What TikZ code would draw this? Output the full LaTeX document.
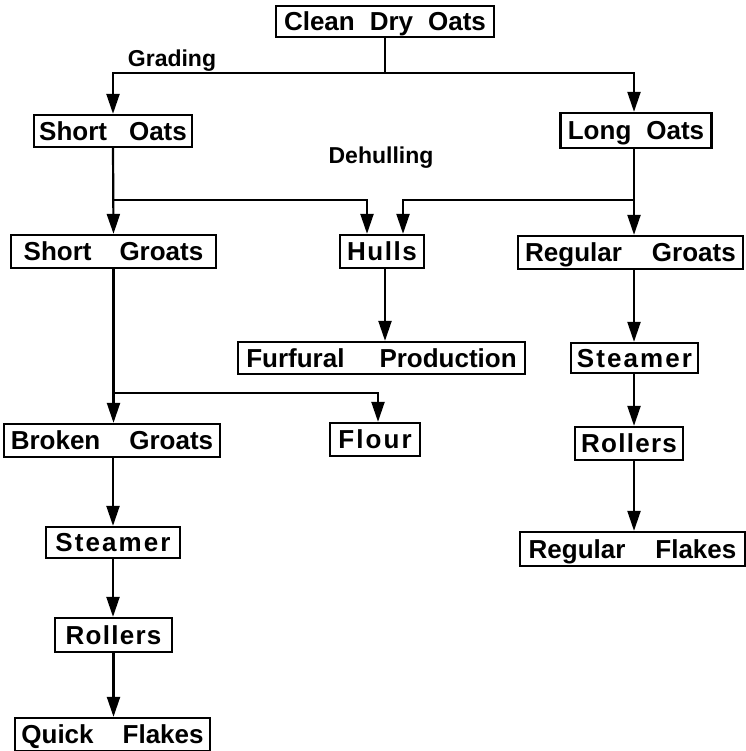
\documentclass[tikz,border=0pt]{standalone}
\usepackage{fontspec}
\setmainfont{Liberation Sans}
\usetikzlibrary{arrows.meta}
\newcommand{\wsp}[1]{\hspace{#1pt}}
\begin{document}
\begin{tikzpicture}[x=1pt,y=-1pt,
  box/.style={draw,line width=2.3pt,inner sep=0pt,text height=18.6pt,text depth=0pt,font=\bfseries\fontsize{26}{28}\selectfont},
  spaced/.style={font=\bfseries\fontsize{26}{28}\selectfont\addfontfeature{LetterSpace=#1}},
  lab/.style={font=\bfseries\fontsize{23}{25}\selectfont},
  conn/.style={line width=2.2pt},
  arr/.style={conn,-{Triangle[length=20pt,width=13pt]}}]
\useasboundingbox (0,0) rectangle (745,751);
% nodes
\node[box,minimum width=218pt,minimum height=31pt] (cdo) at (385,21.5) {Clean\wsp{15}Dry\wsp{15}Oats};
\node[box,minimum width=158pt,minimum height=32pt] (so) at (113,131) {Short\wsp{22}Oats};
\node[box,minimum width=151pt,minimum height=35pt] (lo) at (636,130.5) {Long\wsp{15}Oats};
\node[box,minimum width=205pt,minimum height=33pt] (sg) at (113.5,251.5) {Short\wsp{28}Groats};
\node[box,spaced=6,minimum width=84pt,minimum height=33pt] (hu) at (382,251.5) {Hulls};
\node[box,minimum width=225pt,minimum height=33pt] (rg) at (630.5,252.5) {Regular\wsp{30}Groats};
\node[box,minimum width=287pt,minimum height=32pt] (fp) at (381.5,358) {Furfural\wsp{35}Production};
\node[box,spaced=8,minimum width=127pt,minimum height=30pt] (st2) at (634.5,358) {Steamer};
\node[box,spaced=5,minimum width=108pt,minimum height=33pt] (ro2) at (629,443.5) {Rollers};
\node[box,minimum width=225pt,minimum height=34pt] (rf) at (632.5,549) {Regular\wsp{30}Flakes};
\node[box,minimum width=216pt,minimum height=33pt] (bg) at (112,440.5) {Broken\wsp{29}Groats};
\node[box,spaced=8,minimum width=90pt,minimum height=33pt] (fl) at (375,439.5) {Flour};
\node[box,spaced=8,minimum width=134pt,minimum height=31pt] (st1) at (113,542.5) {Steamer};
\node[box,spaced=5,minimum width=117pt,minimum height=34pt] (ro1) at (113.5,635) {Rollers};
\node[box,minimum width=195pt,minimum height=33pt] (qf) at (112.5,734.5) {Quick\wsp{29}Flakes};
\node[lab] (grading) at (172,61) {Grading};
\node[lab] (dehull) at (381,158) {Dehulling};
% junctions
\coordinate (j1) at (385,73);
\coordinate (j2) at (113,200);
\coordinate (j3) at (634,200);
\coordinate (j4) at (113,393);
\coordinate (hl) at (367,0);
\coordinate (hr) at (403,0);
\coordinate (rc) at (634,0);
\coordinate (fc) at (378,0);
\coordinate (hc) at (385,0);
% connectors
\draw[conn] (cdo.south -| j1) -- (j1);
\draw[arr] (j1) -| (so.north);
\draw[arr] (j1) -| (rc |- lo.north);
\draw[arr] (so.south) -- (sg.north);
\draw[arr] (j2) -| (hl |- hu.north);
\draw[arr] (rc |- lo.south) -- (rc |- rg.north);
\draw[arr] (j3) -| (hr |- hu.north);
\draw[arr] (hc |- hu.south) -- (hc |- fp.north);
\draw[arr] (rc |- rg.south) -- (rc |- st2.north);
\draw[arr] (rc |- st2.south) -- (rc |- ro2.north);
\draw[arr] (rc |- ro2.south) -- (rc |- rf.north);
\draw[arr] (sg.south) -- (sg.south |- bg.north);
\draw[arr] (j4) -| (fc |- fl.north);
\draw[arr] (bg.south -| st1.north) -- (st1.north);
\draw[arr] (st1.south) -- (st1.south |- ro1.north);
\draw[arr] (ro1.south) -- (ro1.south |- qf.north);
\end{tikzpicture}
\end{document}
